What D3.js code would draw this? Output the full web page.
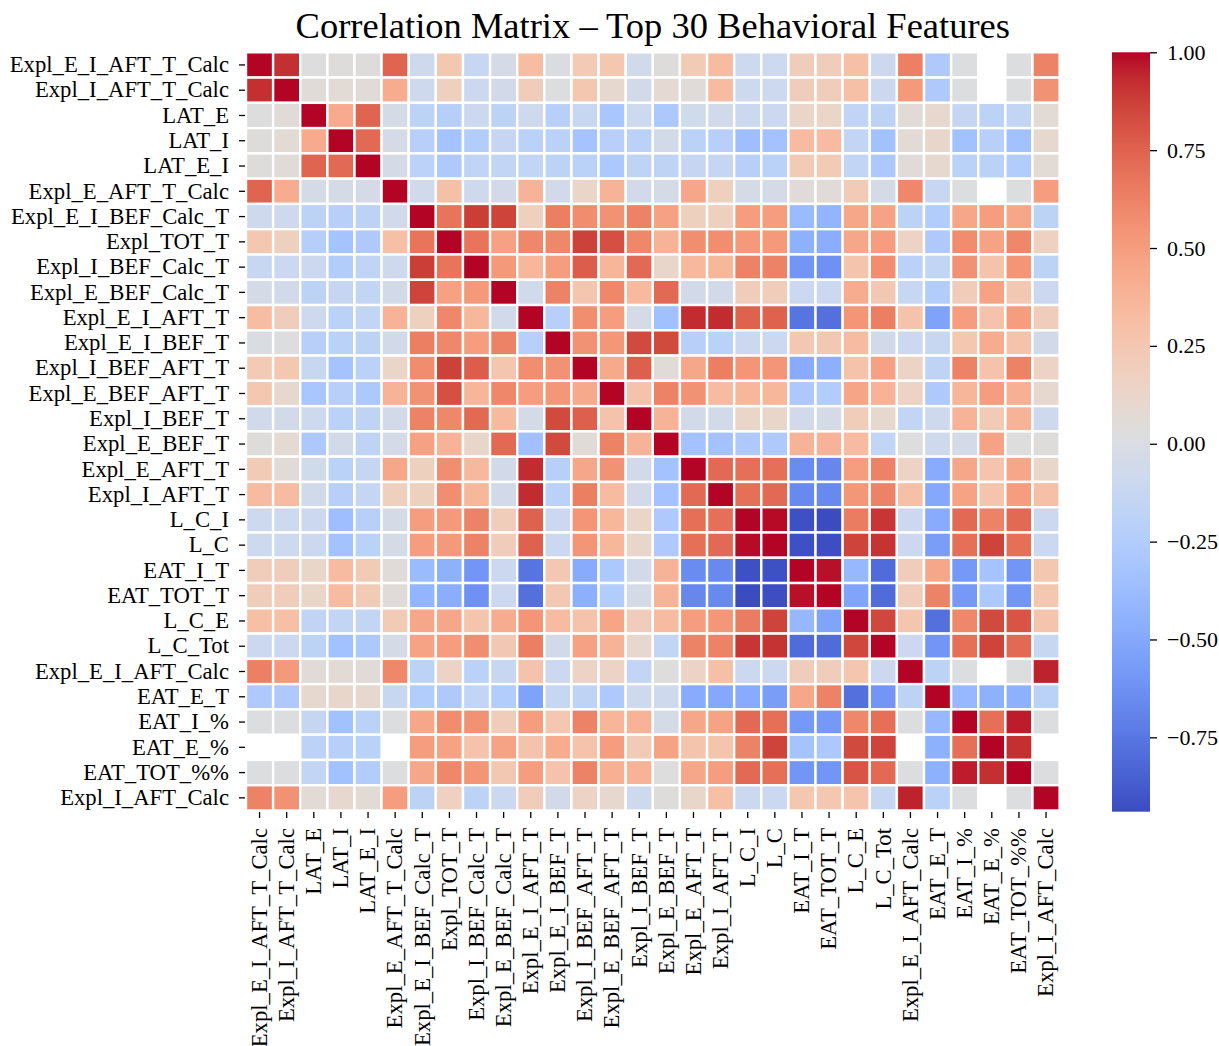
<!DOCTYPE html>
<meta charset="utf-8">
<style>
  body { margin: 0; background: #fff; }
  text { font-family: "Liberation Serif", "Times New Roman", serif; fill: #000; }
</style>
<body>
<div id="chart"></div>

<script src="https://d3js.org/d3.v7.min.js"></script>
<script>

// feature names, same order for rows and columns
var features = [
  "Expl_E_I_AFT_T_Calc", "Expl_I_AFT_T_Calc", "LAT_E", "LAT_I", "LAT_E_I",
  "Expl_E_AFT_T_Calc", "Expl_E_I_BEF_Calc_T", "Expl_TOT_T", "Expl_I_BEF_Calc_T", "Expl_E_BEF_Calc_T",
  "Expl_E_I_AFT_T", "Expl_E_I_BEF_T", "Expl_I_BEF_AFT_T", "Expl_E_BEF_AFT_T", "Expl_I_BEF_T",
  "Expl_E_BEF_T", "Expl_E_AFT_T", "Expl_I_AFT_T", "L_C_I", "L_C",
  "EAT_I_T", "EAT_TOT_T", "L_C_E", "L_C_Tot", "Expl_E_I_AFT_Calc",
  "EAT_E_T", "EAT_I_%", "EAT_E_%", "EAT_TOT_%%", "Expl_I_AFT_Calc"
];

// upper triangle of the correlation matrix, row i starts at column i (null = no value)
var upper = [
  [1, 0.92, 0.03, 0.04, 0.04, 0.74, -0.08, 0.25, -0.12, -0.04, 0.32, 0.0, 0.23, 0.25, -0.06, 0.04, 0.22, 0.33, -0.09, -0.09, 0.2, 0.2, 0.3, -0.1, 0.63, -0.27, 0.02, null, 0.02, 0.62],
  [1, 0.06, 0.07, 0.06, 0.42, -0.08, 0.18, -0.1, -0.05, 0.2, 0.02, 0.25, 0.1, -0.05, 0.08, 0.05, 0.33, -0.09, -0.09, 0.2, 0.2, 0.3, -0.1, 0.52, -0.27, 0.02, null, 0.02, 0.55],
  [1, 0.43, 0.74, -0.03, -0.18, -0.23, -0.1, -0.18, -0.08, -0.22, -0.12, -0.3, -0.09, -0.28, -0.07, -0.06, -0.1, -0.1, 0.13, 0.13, -0.16, -0.18, 0.06, 0.1, -0.13, -0.19, -0.15, 0.07],
  [1, 0.72, -0.03, -0.22, -0.32, -0.24, -0.13, -0.2, -0.2, -0.32, -0.22, -0.2, -0.05, -0.2, -0.22, -0.36, -0.33, 0.33, 0.33, -0.15, -0.34, 0.07, 0.12, -0.34, -0.22, -0.34, 0.1],
  [1, -0.03, -0.19, -0.27, -0.16, -0.15, -0.15, -0.18, -0.2, -0.28, -0.17, -0.17, -0.13, -0.13, -0.22, -0.2, 0.22, 0.22, -0.15, -0.28, 0.06, 0.1, -0.2, -0.2, -0.25, 0.07],
  [1, -0.06, 0.3, -0.08, -0.05, 0.38, -0.05, 0.13, 0.38, -0.05, -0.04, 0.45, 0.18, -0.03, -0.03, 0.05, 0.05, 0.22, -0.03, 0.6, -0.12, 0.02, null, 0.02, 0.5],
  [1, 0.68, 0.88, 0.86, 0.18, 0.64, 0.58, 0.55, 0.62, 0.48, 0.18, 0.18, 0.5, 0.5, -0.38, -0.42, 0.45, 0.47, -0.18, -0.25, 0.45, 0.5, 0.45, -0.18],
  [1, 0.68, 0.48, 0.6, 0.6, 0.87, 0.82, 0.6, 0.38, 0.57, 0.57, 0.52, 0.52, -0.45, -0.47, 0.45, 0.5, 0.15, -0.27, 0.58, 0.47, 0.6, 0.17],
  [1, 0.52, 0.36, 0.5, 0.77, 0.37, 0.72, 0.12, 0.35, 0.36, 0.62, 0.62, -0.6, -0.62, 0.27, 0.57, -0.2, -0.15, 0.55, 0.28, 0.54, -0.18],
  [1, -0.06, 0.62, 0.26, 0.6, 0.34, 0.72, -0.05, -0.05, 0.2, 0.2, -0.1, -0.1, 0.42, 0.24, -0.12, -0.25, 0.2, 0.47, 0.24, -0.1],
  [1, -0.22, 0.57, 0.5, -0.04, -0.35, 0.93, 0.93, 0.75, 0.75, -0.76, -0.78, 0.54, 0.64, 0.28, -0.53, 0.5, 0.28, 0.5, 0.2],
  [1, 0.55, 0.53, 0.84, 0.84, -0.22, -0.2, -0.1, -0.1, 0.24, 0.24, 0.33, -0.05, -0.1, -0.12, 0.25, 0.42, 0.28, -0.05],
  [1, 0.44, 0.76, 0.06, 0.45, 0.64, 0.54, 0.54, -0.48, -0.46, 0.28, 0.48, 0.15, -0.17, 0.62, 0.28, 0.62, 0.15],
  [1, 0.28, 0.62, 0.55, 0.33, 0.36, 0.36, -0.28, -0.25, 0.46, 0.38, 0.15, -0.27, 0.37, 0.5, 0.4, 0.1],
  [1, 0.38, -0.05, -0.05, 0.13, 0.12, -0.05, -0.04, 0.2, 0.1, -0.15, -0.08, 0.38, 0.22, 0.38, -0.08],
  [1, -0.33, -0.33, -0.27, -0.27, 0.38, 0.38, 0.33, -0.15, 0.03, -0.08, -0.04, 0.47, 0.03, 0.04],
  [1, 0.72, 0.7, 0.7, -0.65, -0.67, 0.5, 0.62, 0.15, -0.48, 0.45, 0.27, 0.45, 0.12],
  [1, 0.7, 0.72, -0.66, -0.66, 0.53, 0.62, 0.3, -0.5, 0.47, 0.27, 0.5, 0.3],
  [1, 0.99, -0.92, -0.94, 0.65, 0.9, -0.1, -0.48, 0.72, 0.62, 0.72, -0.1],
  [1, -0.92, -0.93, 0.86, 0.91, -0.1, -0.56, 0.7, 0.86, 0.7, -0.1],
  [1, 0.98, -0.4, -0.8, 0.2, 0.45, -0.58, -0.32, -0.6, 0.25],
  [1, -0.52, -0.8, 0.2, 0.62, -0.58, -0.28, -0.6, 0.25],
  [1, 0.85, 0.26, -0.78, 0.6, 0.84, 0.8, 0.27],
  [1, -0.1, -0.6, 0.7, 0.86, 0.72, -0.12],
  [1, -0.18, 0.02, null, 0.02, 0.95],
  [1, -0.4, -0.45, -0.45, -0.2],
  [1, 0.7, 0.96, 0.02],
  [1, 0.92, null],
  [1, 0.02],
  [1]
];

// colorbar tick values
var cbarTicks = [1.0, 0.75, 0.5, 0.25, 0.0, -0.25, -0.5, -0.75];

var title = "Correlation Matrix \u2013 Top 30 Behavioral Features";

// coolwarm control points
var coolwarm = ["#3b4cc0", "#445acc", "#4d68d7", "#5775e1", "#6282ea", "#6c8ef1", "#779af7", "#82a5fb",
  "#8db0fe", "#98b9ff", "#a3c2ff", "#aec9fd", "#b8d0f9", "#c2d5f4", "#ccd9ee", "#d5dbe6",
  "#dddddd", "#e5d8d1", "#ecd3c5", "#f1ccb9", "#f5c4ad", "#f7bba0", "#f7b194", "#f7a688",
  "#f49a7b", "#f18d6f", "#ec7f63", "#e57058", "#de604d", "#d55042", "#cb3e38", "#c0282f", "#b40426"];

// build the full symmetric matrix
var n = features.length;
var cells = [];
var matrix = features.map(function() { return new Array(n); });
upper.forEach(function(row, i) {
  row.forEach(function(v, k) {
    var j = i + k;
    matrix[i][j] = v;
    matrix[j][i] = v;
  });
});
matrix.forEach(function(row, i) {
  row.forEach(function(v, j) {
    if (v !== null) cells.push({row: features[i], col: features[j], value: v});
  });
});

var vmin = d3.min(cells, function(d) { return d.value; }),
    vmax = d3.max(cells, function(d) { return d.value; });

var interp = d3.piecewise(d3.interpolateRgb, coolwarm);
var color = function(v) { return interp((v - vmin) / (vmax - vmin)); };

var width = 1219, height = 1046;
var grid = {left: 246, right: 1059.6, top: 52.3, bottom: 810.5};

var svg = d3.select("#chart").append("svg")
    .attr("width", width)
    .attr("height", height);

// scales for the grid
var x = d3.scaleBand().domain(features).range([grid.left, grid.right]);
var y = d3.scaleBand().domain(features).range([grid.top, grid.bottom]);

// title
svg.append("text")
    .attr("x", (grid.left + grid.right) / 2)
    .attr("y", 38)
    .attr("text-anchor", "middle")
    .style("font-size", "36.5px")
    .text(title);

// heatmap cells
svg.append("g").selectAll("rect")
    .data(cells)
  .enter().append("rect")
    .attr("x", function(d) { return x(d.col); })
    .attr("y", function(d) { return y(d.row); })
    .attr("width", x.bandwidth())
    .attr("height", y.bandwidth())
    .style("fill", function(d) { return color(d.value); })
    .style("stroke", "#fff")
    .style("stroke-width", 2.4);

// row labels
var yAxis = svg.append("g")
    .attr("transform", "translate(" + (grid.left - 1) + ",0)")
    .call(d3.axisLeft(y).tickSize(6).tickPadding(10));
yAxis.select(".domain").remove();
yAxis.selectAll("text").style("font-size", "22.7px").attr("font-family", null);
yAxis.selectAll("line").style("stroke-width", 1.3);

// column labels, rotated
var xAxis = svg.append("g")
    .attr("transform", "translate(0," + (grid.bottom + 1.5) + ")")
    .call(d3.axisBottom(x).tickSize(6));
xAxis.select(".domain").remove();
xAxis.selectAll("line").style("stroke-width", 1.3);
xAxis.selectAll("text")
    .style("font-size", "22.7px")
    .attr("font-family", null)
    .attr("text-anchor", "end")
    .attr("transform", "rotate(-90)")
    .attr("x", -16)
    .attr("y", 0)
    .attr("dy", "0.32em");

// colorbar
var cbar = {x: 1112, w: 38, top: 52.3, bottom: 811.7};
var cy = d3.scaleLinear().domain([vmin, vmax]).range([cbar.bottom, cbar.top]);

var grad = svg.append("defs").append("linearGradient")
    .attr("id", "cbar-grad")
    .attr("x1", 0).attr("y1", 1).attr("x2", 0).attr("y2", 0);
grad.selectAll("stop")
    .data(d3.range(0, 1.0001, 1 / 64))
  .enter().append("stop")
    .attr("offset", function(t) { return t; })
    .attr("stop-color", function(t) { return interp(t); });

svg.append("rect")
    .attr("x", cbar.x)
    .attr("y", cbar.top)
    .attr("width", cbar.w)
    .attr("height", cbar.bottom - cbar.top)
    .style("fill", "url(#cbar-grad)");

var cAxis = svg.append("g")
    .attr("transform", "translate(" + (cbar.x + cbar.w) + ",0)")
    .call(d3.axisRight(cy).tickValues(cbarTicks).tickFormat(d3.format(".2f")).tickSize(7).tickPadding(10));
cAxis.select(".domain").remove();
cAxis.selectAll("text").style("font-size", "22px").attr("font-family", null);
cAxis.selectAll("line").style("stroke-width", 1.3);

</script>
</body>
